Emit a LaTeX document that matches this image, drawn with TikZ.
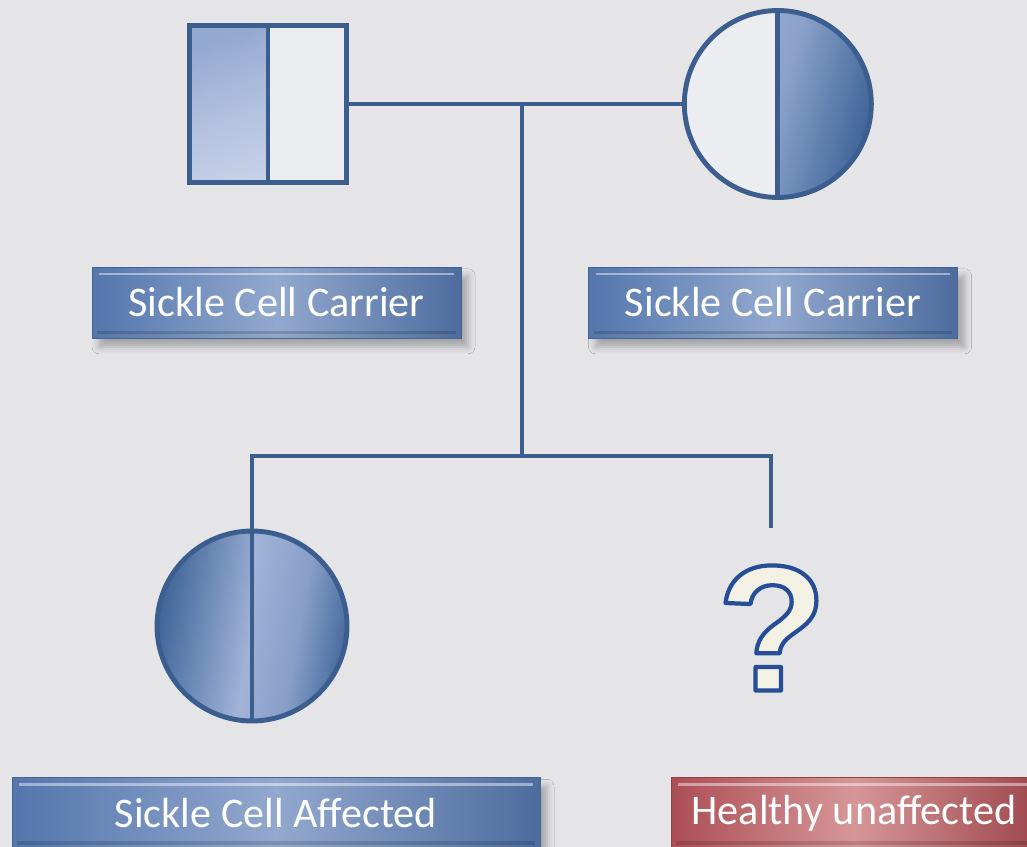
\documentclass[tikz,border=0pt]{standalone}
\usepackage{fontspec}
\setmainfont{Carlito}
\newfontfamily\qmarkfont{Liberation Sans}
\usetikzlibrary{positioning, calc, shadows.blur}
\definecolor{pagebg}{RGB}{229,229,231}
\definecolor{pedblue}{RGB}{59,94,142}
\definecolor{symdark}{RGB}{62,100,152}
\definecolor{symlight}{RGB}{160,178,216}
\definecolor{symwhite}{RGB}{236,237,241}
\definecolor{labdark}{RGB}{84,118,172}
\definecolor{lablight}{RGB}{146,168,206}
\definecolor{reddark}{RGB}{172,78,84}
\definecolor{redlight}{RGB}{214,150,152}
\definecolor{qcream}{RGB}{243,240,228}
% outlined glyph: fill in the text colour, stroke in dark blue
\newcommand{\outlined}[1]{%
  \special{pdf:literal direct 0.149 0.306 0.588 RG 2.4 w 1 j 2 Tr}#1%
  \special{pdf:literal direct 0 Tr}}
\tikzset{
  pedline/.style={draw=pedblue, line width=2.8pt},
  maleblock/.style={rectangle, pedline, fill=symwhite, minimum size=3.14cm,
    inner sep=0pt},
  femaleblock/.style={circle, pedline, fill=symwhite, minimum size=3.74cm,
    inner sep=0pt},
  bevel/.style={path picture={
      \draw[white, opacity=0.45, line width=1.6pt]
        ([shift={(4pt,-4pt)}]path picture bounding box.north west) --
        ([shift={(-4pt,-4pt)}]path picture bounding box.north east);
      \draw[black, opacity=0.15, line width=2pt]
        ([shift={(3pt,3pt)}]path picture bounding box.south west) --
        ([shift={(-3pt,3pt)}]path picture bounding box.south east);}},
  labelbox/.style={rectangle, minimum width=7.38cm, minimum height=1.42cm,
    text=white, font=\fontsize{24pt}{28pt}\selectfont, bevel,
    blur shadow={shadow xshift=4pt, shadow yshift=-5pt,
      shadow blur radius=4pt, shadow opacity=28}},
  carrierlabel/.style={labelbox, draw=labdark!85!black, line width=0.4pt,
    left color=labdark, right color=labdark!92!black, middle color=lablight},
  healthylabel/.style={labelbox, draw=reddark!85!black, line width=0.4pt,
    left color=reddark, right color=reddark!92!black, middle color=redlight},
}

\begin{document}
\begin{tikzpicture}[x=0.02cm, y=-0.02cm]
  \useasboundingbox (0,0) rectangle (1027,847);
  \clip (0,0) rectangle (1027,847);
  \fill[pagebg] (0,0) rectangle (1027,847);

  %% ── Parents ─────────────────────────────────────────────────
  \node[maleblock, path picture={
      \shade[top color=symlight!88!symdark, bottom color=symlight!55!white,
             middle color=symlight!80!white, shading angle=20]
        (path picture bounding box.south west) rectangle
        (path picture bounding box.north);}] (father) at (268,104) {};
  \node[femaleblock, right=6.66cm of father, path picture={
      \shade[left color=symlight, right color=symdark, middle color=symlight!80!symdark,
             shading angle=75]
        (path picture bounding box.north) rectangle
        (path picture bounding box.south east);}] (mother) {};

  \draw[pedline] (father.north) -- (father.south);
  \draw[pedline] (mother.north) -- (mother.south);

  %% ── Children ────────────────────────────────────────────────
  \node[femaleblock, minimum size=3.8cm, path picture={
      \shade[left color=symdark, right color=symlight!80!symdark,
             middle color=symlight, shading angle=80]
        (path picture bounding box.south west) rectangle
        (path picture bounding box.north);
      \shade[left color=symlight, right color=symdark,
             middle color=symlight!75!symdark, shading angle=80]
        (path picture bounding box.north) rectangle
        (path picture bounding box.south east);}] (daughter) at (252,626) {};
  \draw[pedline] (daughter.north) -- (daughter.south);

  \node[font=\qmarkfont\bfseries\fontsize{102pt}{102pt}\selectfont, text=qcream,
        inner sep=0pt] (unknown) at (772,628) {\outlined{?}};

  %% ── Lines of descent ────────────────────────────────────────
  \coordinate (mate) at (522,104);
  \coordinate (sibbar) at (522,456);
  \coordinate (sibright) at (771,456);
  \coordinate (unknowntop) at (771,528);

  \draw[pedline] (father.east) -- (mother.west);
  \draw[pedline] (mate) -- (sibbar);
  \draw[pedline] (daughter.north) |- (sibright) -- (unknowntop);

  %% ── Labels ──────────────────────────────────────────────────
  \node[carrierlabel] (fatherlab) at (276.5,302.5) {Sickle Cell Carrier};
  \node[carrierlabel] (motherlab) at (773,302.5) {Sickle Cell Carrier};
  \node[carrierlabel, minimum width=10.56cm] (daughterlab) at (276,813)
    {Sickle Cell Affected};
  \node[healthylabel, minimum width=7.32cm] (unknownlab) at (854,813)
    {Healthy unaffected};

\end{tikzpicture}
\end{document}
